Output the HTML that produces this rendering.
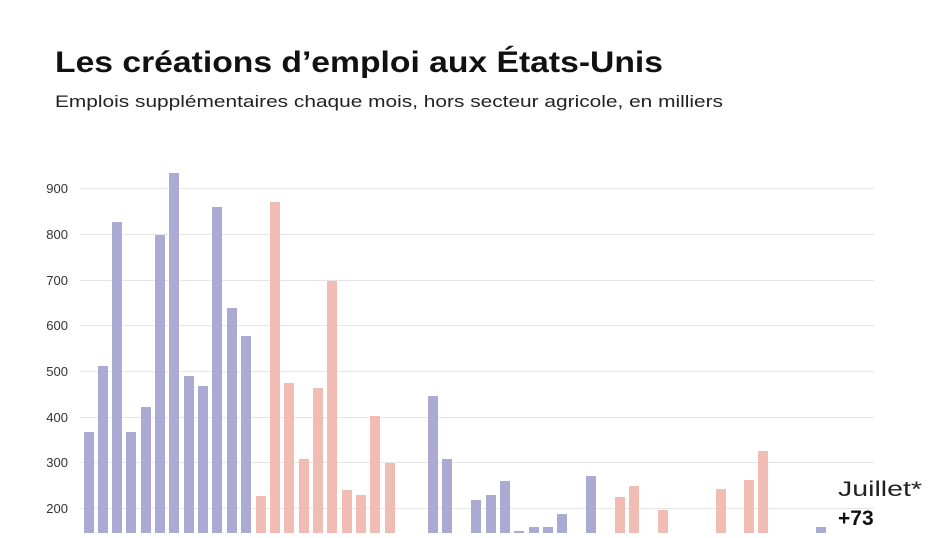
<!DOCTYPE html>
<html><head><meta charset="utf-8"><style>
body{margin:0;background:#fff;width:950px;height:533px;overflow:hidden;font-family:"Liberation Sans",sans-serif}
</style></head><body>
<svg width="950" height="533" xmlns="http://www.w3.org/2000/svg">
<text x="55" y="72" font-size="30" font-weight="bold" fill="#111" font-family="Liberation Sans" textLength="608" lengthAdjust="spacingAndGlyphs">Les créations d’emploi aux États-Unis</text>
<text x="55" y="107" font-size="17" fill="#222" font-family="Liberation Sans" textLength="668" lengthAdjust="spacingAndGlyphs">Emplois supplémentaires chaque mois, hors secteur agricole, en milliers</text>
<g stroke="#e6e6e6" stroke-width="1">
<line x1="80" x2="874" y1="188.5" y2="188.5"/><line x1="80" x2="874" y1="234.5" y2="234.5"/>
<line x1="80" x2="874" y1="280.5" y2="280.5"/><line x1="80" x2="874" y1="325.5" y2="325.5"/>
<line x1="80" x2="874" y1="371.5" y2="371.5"/><line x1="80" x2="874" y1="417.5" y2="417.5"/>
<line x1="80" x2="874" y1="462.5" y2="462.5"/><line x1="80" x2="874" y1="508.5" y2="508.5"/>
</g>
<g font-size="13" fill="#333" text-anchor="end" font-family="Liberation Sans">
<text x="68" y="193">900</text><text x="68" y="239">800</text><text x="68" y="285">700</text>
<text x="68" y="330">600</text><text x="68" y="376">500</text><text x="68" y="422">400</text>
<text x="68" y="467">300</text><text x="68" y="513">200</text>
</g>
<g fill="#aaaad2">
<rect x="84" y="432" width="10" height="101"/><rect x="98" y="366" width="10" height="167"/>
<rect x="112" y="222" width="10" height="311"/><rect x="126" y="432" width="10" height="101"/>
<rect x="141" y="407" width="10" height="126"/><rect x="155" y="235" width="10" height="298"/>
<rect x="169" y="173" width="10" height="360"/><rect x="184" y="376" width="10" height="157"/>
<rect x="198" y="386" width="10" height="147"/><rect x="212" y="207" width="10" height="326"/>
<rect x="227" y="308" width="10" height="225"/><rect x="241" y="336" width="10" height="197"/>
<rect x="428" y="396" width="10" height="137"/><rect x="442" y="459" width="10" height="74"/>
<rect x="471" y="500" width="10" height="33"/><rect x="486" y="495" width="10" height="38"/>
<rect x="500" y="481" width="10" height="52"/><rect x="514" y="531" width="10" height="2"/>
<rect x="529" y="527" width="10" height="6"/><rect x="543" y="527" width="10" height="6"/>
<rect x="557" y="514" width="10" height="19"/><rect x="586" y="476" width="10" height="57"/>
<rect x="816" y="527" width="10" height="6"/>
</g>
<g fill="#f0bcb4">
<rect x="256" y="496" width="10" height="37"/><rect x="270" y="202" width="10" height="331"/>
<rect x="284" y="383" width="10" height="150"/><rect x="299" y="459" width="10" height="74"/>
<rect x="313" y="388" width="10" height="145"/><rect x="327" y="281" width="10" height="252"/>
<rect x="342" y="490" width="10" height="43"/><rect x="356" y="495" width="10" height="38"/>
<rect x="370" y="416" width="10" height="117"/><rect x="385" y="463" width="10" height="70"/>
<rect x="615" y="497" width="10" height="36"/><rect x="629" y="486" width="10" height="47"/>
<rect x="658" y="510" width="10" height="23"/><rect x="716" y="489" width="10" height="44"/>
<rect x="744" y="480" width="10" height="53"/><rect x="758" y="451" width="10" height="82"/>
</g>
<text x="838" y="496" font-size="21" fill="#222" font-family="Liberation Sans" textLength="84" lengthAdjust="spacingAndGlyphs">Juillet*</text>
<text x="838" y="525" font-size="21" font-weight="bold" fill="#111" font-family="Liberation Sans">+73</text>
</svg>
</body></html>
